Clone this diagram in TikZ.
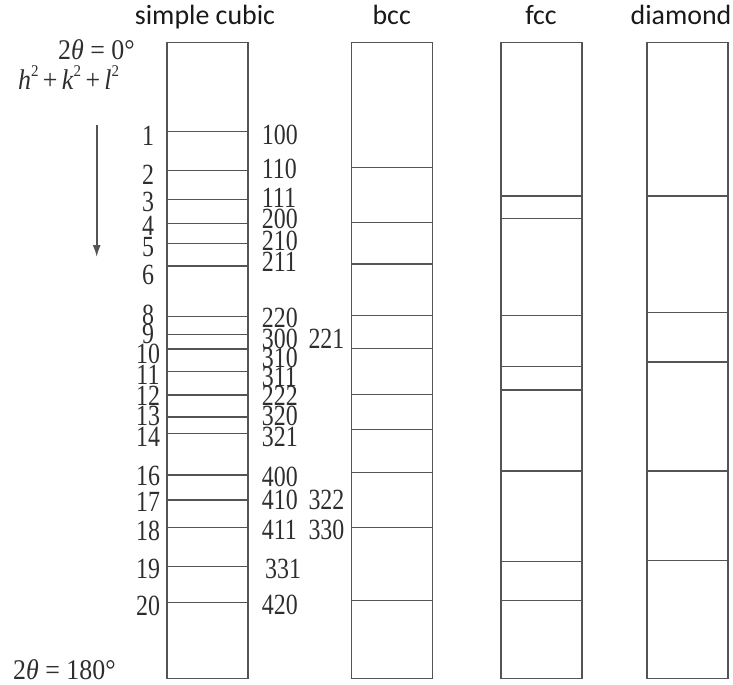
\documentclass[tikz,border=0pt]{standalone}
\usepackage{fontspec}
\usepackage{graphicx}
\setmainfont{Liberation Serif}
\newfontfamily\titlefont{Carlito}
\usetikzlibrary{arrows.meta}
\definecolor{linegray}{gray}{0.33}
\definecolor{textgray}{gray}{0.18}
\tikzset{
  colbox/.style={draw=linegray, line width=1.5bp, minimum width=81bp, minimum height=636bp, inner sep=0pt, outer sep=0pt},
  rowline/.style={draw=linegray, line width=1.5bp},
  coltitle/.style={font=\titlefont\fontsize{28}{28}\selectfont, text=black!90, inner sep=0pt, anchor=base},
  nlabel/.style={font=\fontsize{24.5}{24.5}\selectfont, text=textgray, inner sep=0pt, anchor=center},
  hkl/.style={font=\fontsize{24.5}{24.5}\selectfont, text=textgray, inner sep=0pt, anchor=west},
  axislabel/.style={font=\fontsize{26}{26}\selectfont, text=textgray, inner sep=0pt, anchor=base west}
}
\newcommand{\tall}[1]{\scalebox{0.98}[1.2]{#1}}
\newcommand{\slighttall}[1]{\scalebox{1}[1.1]{#1}}
\newcommand{\sqr}{\raisebox{1.0ex}{\fontsize{15}{15}\selectfont 2}}
\begin{document}
\begin{tikzpicture}[x=1bp,y=-1bp]
\useasboundingbox (0,0) rectangle (733,685);
% column boxes
\node[colbox] (sc)  at (207.35,360.3) {};
\node[colbox] (bcc) at (392.0,360.3) {};
\node[colbox] (fcc) at (541.35,360.3) {};
\node[colbox] (dia) at (687.65,360.3) {};
% titles
\node[coltitle] (tsc)  at (205,25) {simple cubic};
\node[coltitle] (tbcc) at (391.7,25) {bcc};
\node[coltitle] (tfcc) at (541,25) {fcc};
\node[coltitle] (tdia) at (681,25) {diamond};
% row lines
\foreach \y in {131.7,170.7,199.3,223.7,243.3,266,316.7,334.7,349,371.7,395,417,433.3,475,500,527.3,566.3,602.3}
  \draw[rowline] (sc.west |- 0,\y) -- (sc.east |- 0,\y);
\foreach \y in {167.7,222.3,264,315.7,348.7,394.3,429.3,472.7,527.3,600.7}
  \draw[rowline] (bcc.west |- 0,\y) -- (bcc.east |- 0,\y);
\foreach \y in {196,218.7,315.7,366.7,390,471,561.7,600.7}
  \draw[rowline] (fcc.west |- 0,\y) -- (fcc.east |- 0,\y);
\foreach \y in {196,312.3,362,471,560.7}
  \draw[rowline] (dia.west |- 0,\y) -- (dia.east |- 0,\y);
% N labels
\foreach \n/\y in {1/136,2/175,3/201.7,4/226,5/247.5,6/274.7,8/315,9/334,10/354,11/375,12/396,13/416,14/437,16/476,17/502,18/531,19/569,20/606}
  \node[nlabel] (n\n) at (148,\y) {\tall{\n}};
% hkl labels
\foreach \t/\y in {100/134.7,110/169,111/198,200/219,210/241,211/262,220/317.5,300/339,310/358,311/377,222/396,320/416,321/437,400/477,410/500,411/530,420/605}
  \node[hkl] (m\t) at (261.7,\y) {\tall{\t}};
\node[hkl] (m331) at (265,569) {\tall{331}};
\node[hkl] (m221) at (308.3,339) {\tall{221}};
\node[hkl] (m322) at (308.3,500) {\tall{322}};
\node[hkl] (m330) at (308.3,530) {\tall{330}};
% axis labels
\node[axislabel] (top) at (58,59.3) {\slighttall{2\textit{θ} = 0°}};
\node[axislabel] (hk) at (18,90) {\slighttall{\textit{h}\sqr\,+\,\textit{k}\sqr\,+\,\textit{l}\sqr}};
\node[axislabel] (bot) at (13,679) {\slighttall{2\textit{θ} = 180°}};
% arrow
\coordinate (arrTop) at (96.7,125);
\coordinate (arrBot) at (96.7,257);
\draw[draw=linegray, line width=1.6bp, -{Latex[length=12bp,width=8bp]}] (arrTop) -- (arrBot);
\end{tikzpicture}
\end{document}
